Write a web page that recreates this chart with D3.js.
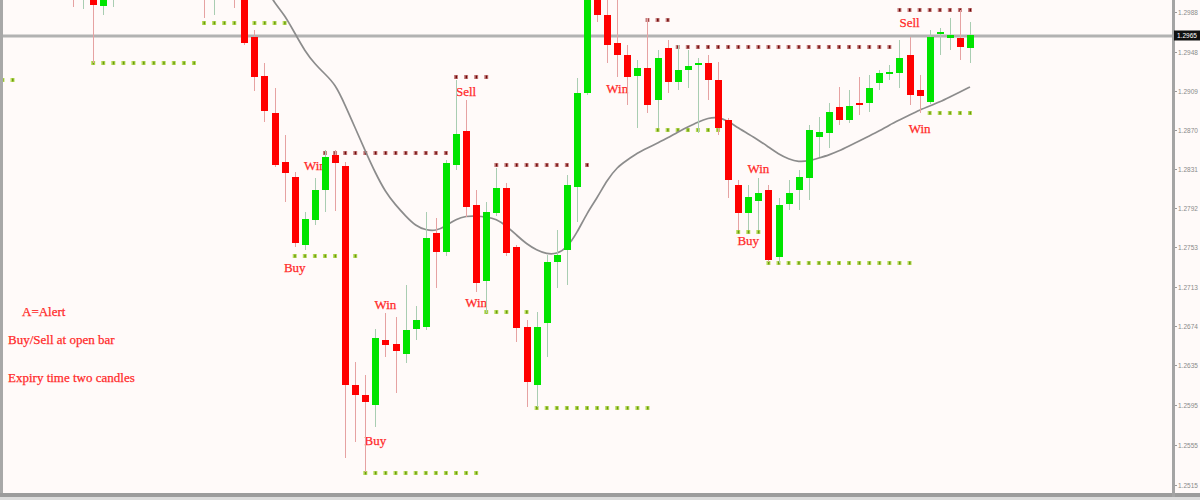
<!DOCTYPE html>
<html><head><meta charset="utf-8">
<script src="https://cdn.jsdelivr.net/npm/d3@7"></script>
<style>html,body{margin:0;padding:0;background:#fffaf9;overflow:hidden}</style>
</head><body><svg id="c" width="1200" height="500"></svg>
<script>
// ---- data (price values) ----
const N = null;
const opens = [1.3020,1.3005,1.3015,1.2994,1.3005,N,N,N,N,N,N,N,N,1.3015,1.3003,N,1.3020,1.3008,1.2963,1.2924,
1.2887,1.2838,1.2823,1.2755,1.2780,1.2810,1.2845,1.2834,1.2615,1.2605,1.2595,1.2660,1.2656,1.2646,1.2671,1.2673,1.2767,1.2748,1.2835,1.2869,
1.2795,1.2719,1.2787,1.2812,1.2753,1.2673,1.2615,1.2677,1.2738,1.2750,1.2813,1.2907,1.3003,1.2985,1.2957,1.2945,1.2924,1.2932,1.2900,1.2952,
1.2918,1.2930,1.2935,1.2937,1.2920,1.2880,1.2815,1.2787,1.2799,1.2810,1.2743,1.2796,1.2810,1.2822,1.2863,1.2867,1.2893,1.2880,1.2897,1.2897,
1.2917,1.2926,1.2927,1.2945,1.2910,1.2898,1.2966,1.2962,1.2962,1.2952];
const highs = [1.3030,1.3030,1.3025,1.3020,1.3025,N,N,N,N,N,N,N,N,1.3025,1.3025,N,1.3030,1.3015,1.2970,1.2937,
1.2912,1.2865,1.2828,1.2788,1.2822,1.2850,1.2850,1.2838,1.2638,1.2625,1.2671,1.2687,1.2683,1.2715,1.2694,1.2788,1.2782,1.2840,1.2920,1.2900,
1.2810,1.2798,1.2832,1.2817,1.2755,1.2680,1.2688,1.2745,1.2770,1.2825,1.2922,1.3010,1.3010,1.3005,1.3005,1.2955,1.2940,1.2982,1.2950,1.2960,
1.2955,1.2950,1.2942,1.2945,1.2938,1.2882,1.2820,1.2815,1.2822,1.2815,1.2802,1.2820,1.2830,1.2875,1.2883,1.2897,1.2913,1.2910,1.2923,1.2925,
1.2930,1.2935,1.2960,1.2963,1.2925,1.2970,1.2972,1.2982,1.2990,1.2978];
const lows = [1.2993,1.2991,1.2937,1.2985,1.2993,N,N,N,N,N,N,N,N,1.2982,1.2985,N,1.2992,1.2955,1.2909,1.2878,
1.2833,1.2798,1.2753,1.2750,1.2775,1.2788,1.2789,1.2542,1.2558,1.2528,1.2573,1.2643,1.2607,1.2637,1.2660,1.2670,1.2712,1.2744,1.2830,1.2783,
1.2708,1.2687,1.2784,1.2744,1.2658,1.2593,1.2593,1.2643,1.2712,1.2715,1.2778,1.2905,1.2978,1.2937,1.2923,1.2895,1.2872,1.2887,1.2872,1.2907,
1.2910,1.2912,1.2867,1.2900,1.2865,1.2802,1.2770,1.2770,1.2770,1.2738,1.2737,1.2790,1.2790,1.2800,1.2843,1.2852,1.2875,1.2877,1.2885,1.2888,
1.2910,1.2920,1.2912,1.2895,1.2887,1.2896,1.2945,1.2950,1.2940,1.2937];
const closes = [1.3005,1.3020,1.2995,1.3010,1.3020,N,N,N,N,N,N,N,N,1.3003,1.3015,N,1.3005,1.2957,1.2923,1.2889,
1.2835,1.2827,1.2757,1.2781,1.2810,1.2843,1.2837,1.2615,1.2605,1.2598,1.2662,1.2655,1.2649,1.2670,1.2680,1.2762,1.2748,1.2837,1.2866,1.2793,
1.2717,1.2788,1.2812,1.2747,1.2672,1.2618,1.2673,1.2738,1.2745,1.2815,1.2907,1.3003,1.2985,1.2955,1.2945,1.2923,1.2932,1.2895,1.2942,1.2918,
1.2930,1.2934,1.2937,1.2920,1.2872,1.2820,1.2787,1.2803,1.2807,1.2740,1.2795,1.2807,1.2823,1.2870,1.2868,1.2888,1.2880,1.2894,1.2895,1.2912,
1.2927,1.2928,1.2942,1.2905,1.2904,1.2963,1.2968,1.2965,1.2953,1.2965];

// moving average, from bar 19 to bar 89
const maStart = 19;
const maValues = [1.3014,1.2997,1.2985,1.2967,1.2949,1.2936,1.2926,1.2916,1.2895,1.2872,1.2849,1.2827,1.2808,1.2795,1.2784,1.2774,1.2770,1.2769,1.2774,1.2781,
1.2784,1.2784,1.2783,1.2781,1.2774,1.2765,1.2756,1.2750,1.2746,1.2746,1.2752,1.2767,1.2787,1.2802,1.2820,1.2833,1.2840,1.2847,1.2852,1.2857,
1.2862,1.2868,1.2873,1.2878,1.2882,1.2883,1.2879,1.2872,1.2866,1.2860,1.2853,1.2846,1.2841,1.2838,1.2839,1.2842,1.2845,1.2849,1.2854,1.2859,
1.2864,1.2869,1.2875,1.2880,1.2885,1.2890,1.2894,1.2898,1.2903,1.2908,1.2913];

// dotted signal levels
const supportLevel = [1.2920,1.2937,1.2977,1.2744,1.2527,1.2688,1.2592,1.2870,1.2768,1.2737,1.2887];
const supportFrom  = [-7,2,13,22,29,41,46,58,66,69,85];
const supportTo    = [-6,12,21,28,40,45,57,64,68,83,89];
const resistLevel = [1.2847,1.2923,1.2835,1.2980,1.2953,1.2990];
const resistFrom  = [25,38,42,57,60,82];
const resistTo    = [37,41,51,59,81,89];

// signal labels
const labelText  = ["Buy","Win","Sell","Buy","Win","Win","Win","Buy","Win","Sell","Win"];
const labelBar   = [22,24,39,30,31,40,54,67,68,83,84];
const labelPrice = [1.2733,1.2835,1.2909,1.2560,1.2696,1.2698,1.2912,1.2760,1.2832,1.2978,1.2872];

const noteText = ["A=Alert","Buy/Sell at open bar","Expiry time two candles"];

const axisTicks = [1.2988,1.2948,1.2909,1.2870,1.2831,1.2792,1.2753,1.2713,1.2674,1.2635,1.2595,1.2555,1.2515];

// ---- drawing ----
const svg = d3.select("#c");
const W = 1200, H = 500, plotRight = 1172, plotBottom = 493;
const x = d3.scaleLinear().domain([0, 89]).range([73, 970]);
const y = d3.scaleLinear().domain([1.3, 1.25]).range([0, 500]);

svg.append("rect").attr("width", W).attr("height", H).attr("fill", "#fffaf9");
svg.append("defs").append("clipPath").attr("id", "pc")
  .append("rect").attr("x", 3).attr("y", 0).attr("width", plotRight - 3).attr("height", plotBottom);

const g = svg.append("g").attr("clip-path", "url(#pc)");

// current price line
const lastClose = closes[closes.length - 1];
g.append("line").attr("x1", 0).attr("x2", plotRight).attr("y1", y(lastClose) + 1).attr("y2", y(lastClose) + 1)
  .attr("stroke", "#b2b2b2").attr("stroke-width", 3);

// notes
const notesX = [22, 8, 8], notesY = [316, 344, 382];
g.selectAll("text.note").data(noteText).join("text").attr("class", "note")
  .attr("x", (d, i) => notesX[i]).attr("y", (d, i) => notesY[i])
  .attr("font-family", "Liberation Serif, serif").attr("font-size", 13)
  .attr("fill", "#ff2a2a").attr("stroke", "#ff2a2a").attr("stroke-width", 0.25).text(d => d);

// labels
g.selectAll("text.sig").data(labelText).join("text").attr("class", "sig")
  .attr("x", (d, i) => x(labelBar[i])).attr("y", (d, i) => y(labelPrice[i]))
  .attr("text-anchor", "middle").attr("dominant-baseline", "central")
  .attr("font-family", "Liberation Serif, serif").attr("font-size", 13)
  .attr("fill", "#ff2a2a").attr("stroke", "#ff2a2a").attr("stroke-width", 0.25).text(d => d);

// dotted levels
function dots(levels, from, to, fill, core) {
  levels.forEach((lv, k) => {
    const idx = d3.range(from[k], to[k] + 1);
    g.selectAll(null).data(idx).join("rect")
      .attr("x", d => x(d) - 2).attr("y", y(lv) - 2).attr("width", 4).attr("height", 4)
      .attr("fill", fill);
    g.selectAll(null).data(idx).join("rect")
      .attr("x", d => x(d) - 0.5).attr("y", y(lv) - 1.5).attr("width", 1.5).attr("height", 3)
      .attr("fill", core);
  });
}
dots(supportLevel, supportFrom, supportTo, "#b8dc5a", "#6a9a10");
dots(resistLevel, resistFrom, resistTo, "#c88080", "#6e0a0a");

// moving average
const maIdx = d3.range(maStart, maStart + maValues.length);
g.append("path").datum(maIdx)
  .attr("d", d3.line().x(d => x(d)).y(d => y(maValues[d - maStart])).curve(d3.curveBasis))
  .attr("fill", "none").attr("stroke", "#8c8c8c").attr("stroke-width", 1.7);

// candles
const bars = d3.range(opens.length).filter(i => opens[i] !== null);
const up = i => closes[i] >= opens[i];
g.selectAll("line.wick").data(bars).join("line").attr("class", "wick")
  .attr("x1", i => Math.round(x(i)) + 0.5).attr("x2", i => Math.round(x(i)) + 0.5)
  .attr("y1", i => y(highs[i])).attr("y2", i => y(lows[i]))
  .attr("stroke", i => up(i) ? "#a9cdb2" : "#e6a2a2").attr("stroke-width", 1);
g.selectAll("rect.body").data(bars).join("rect").attr("class", "body")
  .attr("x", i => Math.round(x(i)) - 3).attr("width", 7)
  .attr("y", i => y(Math.max(opens[i], closes[i])))
  .attr("height", i => Math.max(2, Math.abs(y(opens[i]) - y(closes[i]))))
  .attr("fill", i => up(i) ? "#00e400" : "#ff0000");

// frame
svg.append("rect").attr("x", 0).attr("y", 0).attr("width", 3).attr("height", plotBottom).attr("fill", "#a8a8a8");
svg.append("rect").attr("x", 0).attr("y", plotBottom).attr("width", W).attr("height", 4).attr("fill", "#9c9c9c");
svg.append("rect").attr("x", 0).attr("y", plotBottom + 4).attr("width", W).attr("height", 3).attr("fill", "#dcdcdc");
svg.append("rect").attr("x", plotRight).attr("y", 0).attr("width", 3).attr("height", plotBottom + 4).attr("fill", "#a4a4a4");

// axis
const ax = svg.append("g").attr("transform", `translate(${plotRight + 3},0)`)
  .call(d3.axisRight(y).tickValues(axisTicks).tickFormat(d3.format(".4f")).tickSize(2).tickPadding(1));
ax.select(".domain").remove();
ax.selectAll("line").attr("stroke", "#999");
ax.selectAll("text").attr("font-family", "Liberation Sans, sans-serif").attr("font-size", 6.5).attr("fill", "#8a8a8a");

// current price box
svg.append("rect").attr("x", plotRight + 2).attr("y", y(lastClose) - 4.5).attr("width", W - plotRight - 2).attr("height", 10).attr("fill", "#111");
svg.append("text").attr("x", plotRight + 5).attr("y", y(lastClose) + 0.5).attr("dominant-baseline", "central")
  .attr("font-family", "Liberation Sans, sans-serif").attr("font-size", 6.5).attr("fill", "#fff").text(d3.format(".4f")(lastClose));
</script></body></html>
